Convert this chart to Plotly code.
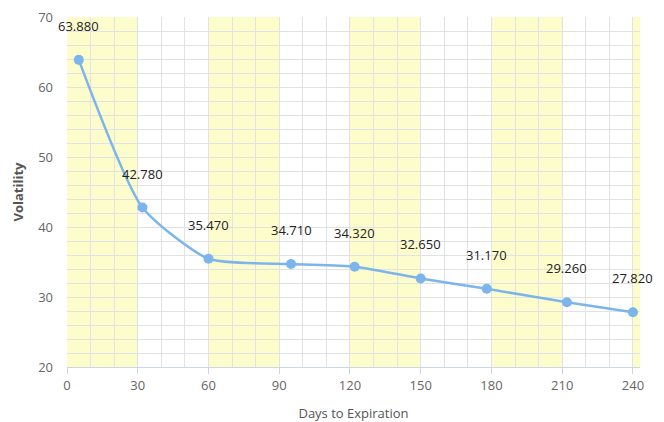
import plotly.graph_objects as go

days = [5, 32, 60, 95, 122, 150, 178, 212, 240]
volatility = [63.88, 42.78, 35.47, 34.71, 34.32, 32.65, 31.17, 29.26, 27.82]
band_starts = [0, 60, 120, 180, 240]
band_width = 30
x_ticks = [0, 30, 60, 90, 120, 150, 180, 210, 240]
y_ticks = [20, 30, 40, 50, 60, 70]

FONT = "Open Sans"
fig = go.Figure()

fig.add_trace(go.Scatter(
    x=days, y=volatility, mode="lines+markers",
    line=dict(color="#7cb5ec", width=2.5, shape="spline", smoothing=0.6),
    marker=dict(color="#7cb5ec", size=10),
    hoverinfo="x+y", showlegend=False,
))

for d, v in zip(days, volatility):
    fig.add_annotation(x=d, y=v, text=f"{v:.3f}", showarrow=False,
                       yshift=34, font=dict(family=FONT, size=13, color="#222"))

for s in band_starts:
    fig.add_shape(type="rect", xref="x", yref="y", x0=s, x1=s + band_width,
                  y0=20, y1=70, fillcolor="#fdfdcc", line_width=0, layer="below")

# page body adds an 8px offset, so the figure is sized to fit inside it
fig.update_layout(
    width=656, height=414,
    margin=dict(l=59, r=24, t=9, b=55),
    paper_bgcolor="white", plot_bgcolor="white",
    font=dict(family=FONT, color="#666", size=12),
    xaxis=dict(
        range=[0, 243], tickvals=x_ticks, showgrid=True, gridcolor="#e2e2e2",
        gridwidth=1, minor=dict(dtick=10, tick0=0, showgrid=True, gridcolor="#e2e2e2"),
        showline=True, linecolor="#ccd6eb", linewidth=1,
        ticks="outside", ticklen=6, tickcolor="#ccd6eb",
        zeroline=False, automargin=False, ticklabeloverflow="allow",
        title=dict(text="Days to Expiration", font=dict(size=13, color="#555"), standoff=16),
        tickfont=dict(size=13, color="#666"),
    ),
    yaxis=dict(
        range=[20, 70], tickvals=y_ticks, showgrid=True, gridcolor="#e2e2e2",
        minor=dict(dtick=2, tick0=20, showgrid=True, gridcolor="#e2e2e2"),
        zeroline=False, ticks="", ticklabelstandoff=13, automargin=False,
        ticklabeloverflow="allow",
        title=dict(text="<b>Volatility</b>", font=dict(size=13, color="#555"), standoff=11),
        tickfont=dict(size=13, color="#666"),
    ),
)

fig.write_html("out.html")
